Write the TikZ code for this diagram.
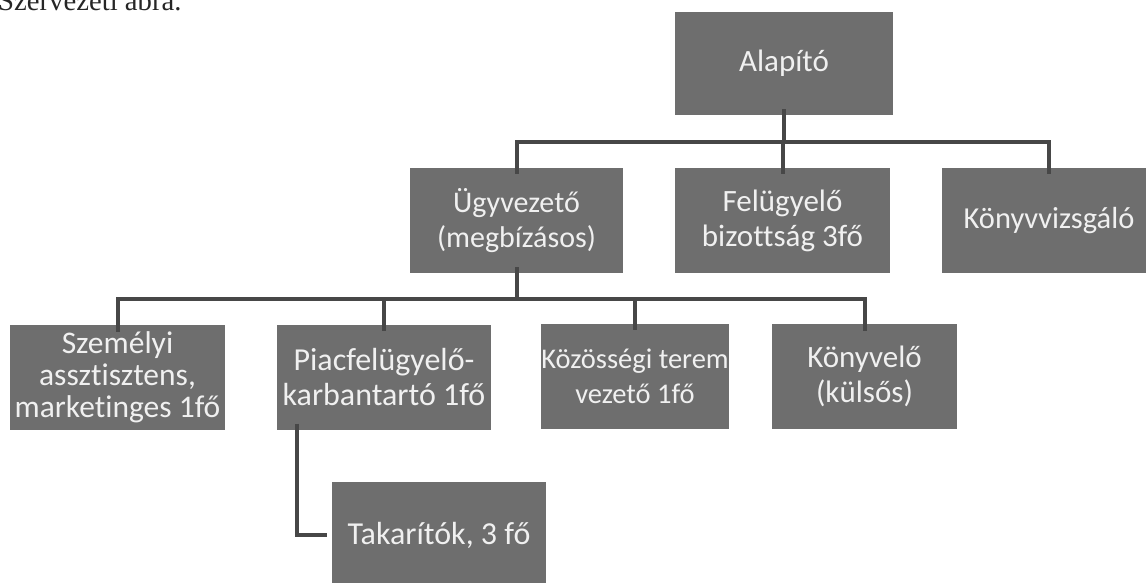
\documentclass[tikz,border=0pt]{standalone}
\usepackage{fontspec}
\setmainfont{Carlito}[Ligatures=NoCommon]
\newfontfamily\titlefont{Liberation Serif}
\begin{document}
\begin{tikzpicture}[x=1pt,y=-1pt,
  box/.style={fill=boxgray, text=white!94!black, inner sep=0pt, align=center,
    font=\fontsize{31}{35}\selectfont, minimum height=105pt},
  fs/.style={font=\fontsize{#1}{35}\selectfont},
  conn/.style={draw=linegray, line width=4pt}]
\definecolor{boxgray}{HTML}{6E6E6E}
\definecolor{linegray}{HTML}{474747}
\useasboundingbox (0,0) rectangle (1146,582);
\fill[white] (0,0) rectangle (1146,582);
\node[anchor=base west, inner sep=0pt, font=\titlefont\fontsize{28.7}{34}\selectfont, text=black!85] (title) at (-2,10) {Szervezeti ábra.};
% level 1
\node[box, minimum width=218pt, minimum height=103pt] (alap) at (784,63.5) {Alapító};
% level 2
\node[box, fs=30, minimum width=213pt] (ugy) at (516.5,220.5) {Ügyvezető\\(megbízásos)};
\node[box, minimum width=215pt] (fel) at (782.5,220.5) {Felügyelő\\bizottság 3fő};
\node[box, fs=30.5, minimum width=214pt] (konyvv) at (1049,220.5) {Könyvvizsgáló};
% level 3
\node[box, font=\fontsize{31.5}{32}\selectfont, minimum width=215pt] (szem) at (117.5,377.5) {Személyi\\assztisztens,\\marketinges 1fő};
\node[box, fs=32, minimum width=214pt] (piac) at (384,377) {Piacfelügyelő-\\karbantartó 1fő};
\node[box, fs=28.5, minimum width=185pt] (koz) at (635,376) {Közösségi terem\\vezető 1fő};
\node[box, minimum width=185pt] (konyvelo) at (864.5,376.5) {Könyvelő\\(külsős)};
% level 4
\node[box, fs=32, minimum width=214pt, minimum height=106pt] (tak) at (439,535) {Takarítók, 3 fő};
% connectors
\coordinate (bus1) at (0,142);
\coordinate (bus2) at (0,299);
\draw[conn] ([yshift=6pt]alap.south) -- (alap.south |- bus1);
\draw[conn] ([yshift=-6pt]ugy.north) -- (ugy.north |- bus1) -- (konyvv.north |- bus1) -- ([yshift=-6pt]konyvv.north);
\draw[conn] (fel.north |- bus1) -- ([yshift=-6pt]fel.north);
\draw[conn] ([yshift=6pt]ugy.south) -- (ugy.south |- bus2);
\draw[conn] ([yshift=-7pt]szem.north) -- (szem.north |- bus2) -- (konyvelo.north |- bus2) -- ([yshift=-7pt]konyvelo.north);
\draw[conn] (piac.north |- bus2) -- ([yshift=-7pt]piac.north);
\draw[conn] (koz.north |- bus2) -- ([yshift=-7pt]koz.north);
\coordinate (tk) at ([xshift=20pt,yshift=6pt]piac.south west);
\draw[conn] (tk) |- ([xshift=-5pt]tak.west);
\end{tikzpicture}
\end{document}
